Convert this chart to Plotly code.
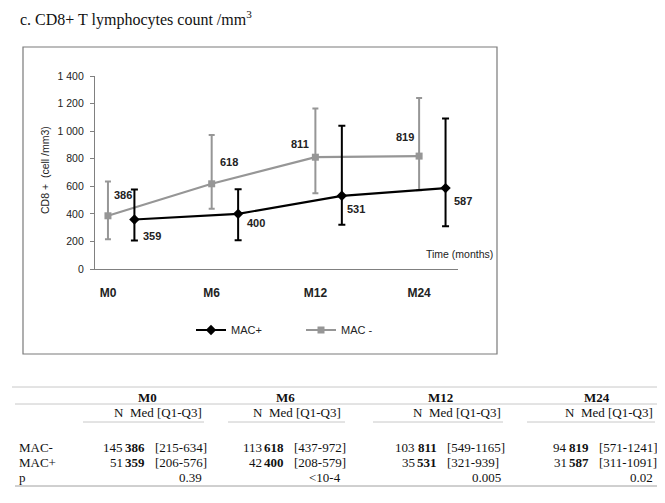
import plotly.graph_objects as go

# ---------------- data ----------------
months = ["M0", "M6", "M12", "M24"]
y_tick_vals = [0, 200, 400, 600, 800, 1000, 1200, 1400]
y_tick_text = ["0", "200", "400", "600", "800", "1 000", "1 200", "1 400"]

mac_minus_med = [386, 618, 811, 819]
mac_minus_q1 = [215, 437, 549, 571]
mac_minus_q3 = [634, 972, 1165, 1241]

mac_plus_med = [359, 400, 531, 587]
mac_plus_q1 = [206, 208, 321, 311]
mac_plus_q3 = [576, 579, 1040, 1091]   # as drawn in the chart

# table below the chart
n_mac_minus = [145, 113, 103, 94]
n_mac_plus = [51, 42, 35, 31]
tab_minus_range = ["215-634", "437-972", "549-1165", "571-1241"]
tab_plus_range = ["206-576", "208-579", "321-939", "311-1091"]
p_values = ["0.39", "&lt;10-4", "0.005", "0.02"]

# ---------------- geometry helpers (page pixels) ----------------
OFF = 8                      # default body margin of the page
W, H = 665 - OFF, 503 - OFF
L, R, T, B = 95, 458, 76, 269   # plot area in page pixels


def px(x):
    return (x - L) / (R - L)


def py(y):
    return (B - y) / (B - T)


GRAY = "#969696"
SANS = "Liberation Sans, Arial, sans-serif"
SERIF = "Liberation Serif, Times New Roman, serif"

xi = list(range(len(months)))
plus_offset = 0.255
x_minus = [i for i in xi]
x_plus = [i + plus_offset for i in xi]

fig = go.Figure()

fig.add_trace(go.Scatter(
    x=x_minus, y=mac_minus_med, name="MAC -", mode="lines+markers",
    line=dict(color=GRAY, width=2.2),
    marker=dict(symbol="square", size=7, color=GRAY),
    error_y=dict(type="data", symmetric=False,
                 array=[q3 - m for q3, m in zip(mac_minus_q3, mac_minus_med)],
                 arrayminus=[m - q1 for q1, m in zip(mac_minus_q1, mac_minus_med)],
                 color=GRAY, thickness=2, width=3),
))
fig.add_trace(go.Scatter(
    x=x_plus, y=mac_plus_med, name="MAC+", mode="lines+markers",
    line=dict(color="black", width=2.2),
    marker=dict(symbol="diamond", size=8, color="black"),
    error_y=dict(type="data", symmetric=False,
                 array=[q3 - m for q3, m in zip(mac_plus_q3, mac_plus_med)],
                 arrayminus=[m - q1 for q1, m in zip(mac_plus_q1, mac_plus_med)],
                 color="black", thickness=2, width=3.5),
))

annotations = []

# data labels
minus_shift = [(15, 21), (17, 22), (-15, 13), (-14, 19)]
plus_shift = [(18, -16), (18, -9), (14, -13), (17, -13)]
for x, v, (dx, dy) in zip(x_minus, mac_minus_med, minus_shift):
    annotations.append(dict(x=x, y=v, xref="x", yref="y", text=f"<b>{v}</b>",
                            showarrow=False, xshift=dx, yshift=dy,
                            font=dict(family=SANS, size=11, color="#222")))
for x, v, (dx, dy) in zip(x_plus, mac_plus_med, plus_shift):
    annotations.append(dict(x=x, y=v, xref="x", yref="y", text=f"<b>{v}</b>",
                            showarrow=False, xshift=dx, yshift=dy,
                            font=dict(family=SANS, size=11, color="#222")))

# title
annotations.append(dict(x=px(18), y=py(18), xref="paper", yref="paper",
                        xanchor="left", yanchor="middle", showarrow=False,
                        text="c. CD8+ T lymphocytes count /mm<sup>3</sup>",
                        font=dict(family=SERIF, size=16, color="#111")))
# y title
annotations.append(dict(x=px(45), y=py(170), xref="paper", yref="paper",
                        xanchor="center", yanchor="middle", showarrow=False,
                        textangle=-90, text="CD8 +\u00a0\u00a0(cell /mm3)",
                        font=dict(family=SANS, size=10.5, color="#222")))
# x title
annotations.append(dict(x=px(495), y=py(254), xref="paper", yref="paper",
                        xanchor="right", yanchor="middle", showarrow=False,
                        text="Time (months)",
                        font=dict(family=SANS, size=10.5, color="#222")))

# ---------------- table ----------------
tfont = dict(family=SERIF, size=13, color="#111")
col_right = [204, 343, 503, 655]
col_center = [147, 285, 440, 597]
range_w = [51, 51, 58.5, 58.5]
row_y = {"head": 397, "sub": 412, "minus": 447, "plus": 462, "p": 477}


def tann(xp, yp, text, anchor):
    annotations.append(dict(x=px(xp), y=py(yp), xref="paper", yref="paper",
                            xanchor=anchor, yanchor="middle", showarrow=False,
                            text=text, font=tfont))


for lbl, key in [("MAC-", "minus"), ("MAC+", "plus"), ("p", "p")]:
    tann(17, row_y[key], lbl, "left")

for c in range(len(months)):
    tann(col_center[c], row_y["head"], f"<b>{months[c]}</b>", "center")
    tann(col_right[c], row_y["sub"], "N\u00a0\u00a0Med [Q1-Q3]", "right")
    rl = col_right[c] - range_w[c]
    mr = rl - 6
    nr = mr - 22
    for key, ns, meds, rngs in [("minus", n_mac_minus, mac_minus_med, tab_minus_range),
                                ("plus", n_mac_plus, mac_plus_med, tab_plus_range)]:
        tann(nr, row_y[key], str(ns[c]), "right")
        tann(mr, row_y[key], f"<b>{meds[c]}</b>", "right")
        tann(rl, row_y[key], f"[{rngs[c]}]", "left")
    tann(col_right[c], row_y["p"], p_values[c], "right")

shapes = []
# chart frame
shapes.append(dict(type="rect", xref="paper", yref="paper",
                   x0=px(23), x1=px(497), y0=py(354), y1=py(47),
                   line=dict(color="#7a7a7a", width=1.2)))
# table rules
for yy, x0, x1, col in [(387, 12, 660, "#c8c8c8"), (404, 15, 660, "#c8c8c8"),
                        (486, 15, 660, "#a0a0a0")]:
    shapes.append(dict(type="line", xref="paper", yref="paper",
                       x0=px(x0), x1=px(x1), y0=py(yy), y1=py(yy),
                       line=dict(color=col, width=1)))
for x0, x1 in [(83, 204), (228, 345), (373, 503), (527, 655)]:
    shapes.append(dict(type="line", xref="paper", yref="paper",
                       x0=px(x0), x1=px(x1), y0=py(422), y1=py(422),
                       line=dict(color="#c8c8c8", width=1)))

fig.update_layout(
    width=W, height=H,
    margin=dict(l=L - OFF, r=W - (R - OFF), t=T - OFF, b=H - (B - OFF), pad=0),
    paper_bgcolor="white", plot_bgcolor="white",
    font=dict(family=SANS, color="#222"),
    annotations=annotations, shapes=shapes,
    legend=dict(orientation="h", traceorder="reversed",
                x=px(191), xanchor="left", y=py(330), yanchor="middle",
                font=dict(family=SANS, size=11, color="#222"),
                entrywidth=65, bgcolor="rgba(0,0,0,0)"),
    showlegend=True,
)
fig.update_xaxes(range=[-0.125, 3.375], tickvals=xi, ticktext=[f"<b>{m}</b>" for m in months],
                 showgrid=False, zeroline=False, showline=True, linecolor="#808080", linewidth=1.3,
                 ticks="", ticklabelstandoff=12, tickfont=dict(family=SANS, size=12, color="#222"),
                 fixedrange=True)
fig.update_yaxes(range=[0, 1400], tickvals=y_tick_vals, ticktext=y_tick_text,
                 showgrid=False, zeroline=False, showline=True, linecolor="#808080", linewidth=1.3,
                 ticks="outside", ticklen=4, tickcolor="#808080", ticklabelstandoff=4,
                 tickfont=dict(family=SANS, size=10.5, color="#222"), fixedrange=True)

fig.write_html("out.html")
